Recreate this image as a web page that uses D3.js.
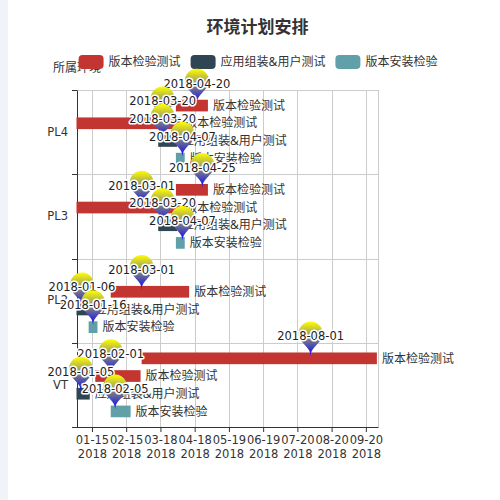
<!DOCTYPE html>
<html>
<head>
<meta charset="utf-8">
<script src="https://cdn.jsdelivr.net/npm/d3@7"></script>
<style>
  html, body { margin: 0; padding: 0; background: #fff; }
  body { width: 500px; height: 500px; overflow: hidden; position: relative; }
  .strip { position: absolute; left: 0; top: 0; width: 8px; height: 500px; background: #f2f3f8; }
  svg { position: absolute; left: 0; top: 0; font-family: "Noto Sans", "Noto Sans CJK SC", sans-serif; }
  svg text.latin { font-family: "DejaVu Sans", sans-serif; }
</style>
</head>
<body>
<div class="strip"></div>
<div id="chart"></div>
<script>
const envs = ["PL4", "PL3", "PL2", "VT"];
const phases = ["版本检验测试", "应用组装&用户测试", "版本安装检验"];
const tickDates = ["2018-01-15", "2018-02-15", "2018-03-18", "2018-04-18", "2018-05-19",
  "2018-06-19", "2018-07-20", "2018-08-20", "2018-09-20"];

// one entry per bar
const barEnv   = ["PL4", "PL4", "PL4", "PL4", "PL3", "PL3", "PL3", "PL3", "PL2", "PL2", "PL2", "VT", "VT", "VT", "VT"];
const barLane  = [0, 1, 2, 3, 0, 1, 2, 3, 1, 2, 3, 0, 1, 2, 3];
const barPhase = [0, 0, 1, 2, 0, 0, 1, 2, 0, 1, 2, 0, 0, 1, 2];
const barStart = ["2018-04-01", "2018-01-01", "2018-03-16", "2018-04-01",
  "2018-04-01", "2018-01-01", "2018-03-16", "2018-04-01",
  "2018-02-01", "2018-01-01", "2018-01-12",
  "2018-03-01", "2018-01-18", "2018-01-01", "2018-02-01"];
const barEnd   = ["2018-04-30", "2018-04-05", "2018-04-02", "2018-04-09",
  "2018-04-30", "2018-04-05", "2018-04-02", "2018-04-09",
  "2018-04-13", "2018-01-13", "2018-01-20",
  "2018-09-30", "2018-02-28", "2018-01-13", "2018-02-19"];
const barMark  = ["2018-04-20", "2018-03-20", "2018-03-20", "2018-04-07",
  "2018-04-25", "2018-03-01", "2018-03-20", "2018-04-07",
  "2018-03-01", "2018-01-06", "2018-01-16",
  "2018-08-01", "2018-02-01", "2018-01-05", "2018-02-05"];
const axisStart = "2018-01-01";
const axisEnd = "2018-10-01";

const parse = d3.utcParse("%Y-%m-%d");
const bars = barEnv.map((env, i) => ({
  env: env,
  lane: barLane[i],
  phase: phases[barPhase[i]],
  start: parse(barStart[i]),
  end: parse(barEnd[i]),
  mark: barMark[i]
}));

const width = 500, height = 500;
const grid = {left: 76.5, right: 378, top: 90, bottom: 427};
const color = d3.scaleOrdinal().domain(phases).range(["#c23531", "#2f4554", "#61a0a8"]);

const svg = d3.select("#chart").append("svg")
  .attr("width", width)
  .attr("height", height);

const defs = svg.append("defs");
const grad = defs.append("linearGradient")
  .attr("id", "pinGrad")
  .attr("x1", 0).attr("y1", 0).attr("x2", 0).attr("y2", 1);
grad.append("stop").attr("offset", 0).attr("stop-color", "#ffff00");
grad.append("stop").attr("offset", 1).attr("stop-color", "#0000ff");

const x = d3.scaleUtc()
  .domain([parse(axisStart), parse(axisEnd)])
  .range([grid.left, grid.right]);

const y = d3.scaleBand()
  .domain(envs)
  .range([grid.top, grid.bottom])
  .padding(0);

const lane = d3.scaleBand()
  .domain([0, 1, 2, 3])
  .range([0, y.bandwidth()])
  .paddingInner(0.34)
  .paddingOuter(0.55);

// title
svg.append("text")
  .attr("x", 257.5)
  .attr("y", 33)
  .attr("text-anchor", "middle")
  .style("font-size", "17px")
  .style("font-weight", "bold")
  .style("fill", "#333")
  .text("环境计划安排");

// y axis name, sits under the legend
svg.append("text")
  .attr("x", 77)
  .attr("y", 72)
  .attr("text-anchor", "middle")
  .style("font-size", "12px")
  .style("fill", "#333")
  .text("所属环境");

// legend
const legend = svg.append("g").attr("class", "legend");
const items = legend.selectAll("g.item")
  .data(phases)
  .enter().append("g")
  .attr("class", "item");
items.append("rect")
  .attr("width", 25).attr("height", 14)
  .attr("rx", 4).attr("ry", 4)
  .attr("y", 55)
  .attr("fill", d => color(d));
items.append("text")
  .attr("y", 62)
  .attr("dy", "0.35em")
  .style("font-size", "12px")
  .style("fill", "#333")
  .text(d => d);
let widths = [];
items.select("text").each(function () { widths.push(this.getComputedTextLength()); });
const total = d3.sum(widths) + phases.length * 30 + (phases.length - 1) * 10;
let lx = 258 - total / 2;
items.each(function (d, i) {
  const g = d3.select(this);
  g.select("rect").attr("x", lx);
  g.select("text").attr("x", lx + 30);
  lx += 30 + widths[i] + 10;
});

// grid lines
const gridG = svg.append("g").attr("class", "grid");
const ticks = tickDates.map(parse);
gridG.selectAll("line.v")
  .data(ticks.concat([parse(axisEnd)]))
  .enter().append("line")
  .attr("class", "v")
  .attr("x1", d => Math.round(x(d)) + 0.5)
  .attr("x2", d => Math.round(x(d)) + 0.5)
  .attr("y1", grid.top)
  .attr("y2", grid.bottom)
  .attr("stroke", "#ccc");
gridG.selectAll("line.h")
  .data(envs)
  .enter().append("line")
  .attr("class", "h")
  .attr("x1", grid.left)
  .attr("x2", grid.right)
  .attr("y1", d => Math.round(y(d)) + 0.5)
  .attr("y2", d => Math.round(y(d)) + 0.5)
  .attr("stroke", "#ccc");

// x axis
const xAxis = svg.append("g")
  .attr("transform", `translate(0,${grid.bottom})`)
  .call(d3.axisBottom(x).tickValues(ticks).tickSize(5).tickSizeOuter(0).tickFormat(""));
xAxis.select(".domain").attr("stroke", "#333");
xAxis.selectAll(".tick line").attr("stroke", "#333");
const fmtMd = d3.utcFormat("%m-%d"), fmtY = d3.utcFormat("%Y");
xAxis.selectAll(".tick text").remove();
xAxis.selectAll(".tick").each(function (d) {
  const t = d3.select(this).append("text")
    .attr("class", "latin")
    .attr("text-anchor", "middle")
    .attr("font-family", "DejaVu Sans")
    .style("font-size", "11.5px")
    .style("fill", "#333");
  t.append("tspan").attr("x", 0).attr("y", 17).text(fmtMd(d));
  t.append("tspan").attr("x", 0).attr("y", 30.5).text(fmtY(d));
});

// y axis
const yAxis = svg.append("g")
  .attr("transform", `translate(${grid.left + 0.5},0)`)
  .call(d3.axisLeft(y).tickSize(0).tickPadding(9));
yAxis.attr("font-family", null);
yAxis.select(".domain").attr("stroke", "#333");
yAxis.selectAll(".tick text")
  .attr("class", "latin")
  .style("font-size", "11.5px")
  .style("fill", "#333");
yAxis.selectAll("line.bound")
  .data(envs.concat(["end"]))
  .enter().append("line")
  .attr("class", "bound")
  .attr("x1", -5).attr("x2", 0)
  .attr("y1", d => (d === "end" ? grid.bottom : Math.round(y(d))) + 0.5)
  .attr("y2", d => (d === "end" ? grid.bottom : Math.round(y(d))) + 0.5)
  .attr("stroke", "#333");

// bars
const barY = d => y(d.env) + lane(d.lane);
const barG = svg.append("g").attr("class", "bars");
barG.selectAll("rect")
  .data(bars)
  .enter().append("rect")
  .attr("x", d => x(d.start))
  .attr("y", barY)
  .attr("width", d => x(d.end) - x(d.start))
  .attr("height", lane.bandwidth())
  .attr("fill", d => color(d.phase));

barG.selectAll("text")
  .data(bars)
  .enter().append("text")
  .attr("x", d => x(d.end) + 5)
  .attr("y", d => barY(d) + lane.bandwidth() / 2)
  .attr("dy", "0.35em")
  .style("font-size", "12px")
  .style("fill", "#333")
  .text(d => d.phase);

// pins (shape after echarts 'pin' symbol, size 40)
const pinPath = (px, py) => {
  const w = 40 / 5 * 3, h = 40, r = w / 2;
  const dy = r * r / (h - r);
  const cy = py - h + r + dy;
  const angle = Math.asin(dy / r);
  const dx = Math.cos(angle) * r;
  const tanX = Math.sin(angle), tanY = Math.cos(angle);
  const cpLen = r * 0.6, cpLen2 = r * 0.7;
  const p = d3.path();
  p.moveTo(px - dx, cy + dy);
  p.arc(px, cy, r, Math.PI - angle, Math.PI * 2 + angle);
  p.bezierCurveTo(px + dx - tanX * cpLen, cy + dy + tanY * cpLen, px, py - cpLen2, px, py);
  p.bezierCurveTo(px, py - cpLen2, px - dx + tanX * cpLen, cy + dy + tanY * cpLen, px - dx, cy + dy);
  p.closePath();
  return p.toString();
};
const tipY = d => barY(d) + lane.bandwidth() / 2 - 2;

const pins = svg.append("g").attr("class", "pins")
  .selectAll("g.pin")
  .data(bars)
  .enter().append("g")
  .attr("class", "pin");
pins.append("path")
  .attr("d", d => pinPath(x(parse(d.mark)), tipY(d)))
  .attr("fill", "url(#pinGrad)");
pins.append("text")
  .attr("class", "latin")
  .attr("x", d => x(parse(d.mark)))
  .attr("y", d => tipY(d) - 20)
  .attr("dy", "0.35em")
  .attr("text-anchor", "middle")
  .style("font-size", "11.5px")
  .style("fill", "#222")
  .style("stroke", "#fff")
  .style("stroke-width", "3px")
  .style("paint-order", "stroke")
  .style("stroke-linejoin", "round")
  .text(d => d.mark);
</script>
</body>
</html>
